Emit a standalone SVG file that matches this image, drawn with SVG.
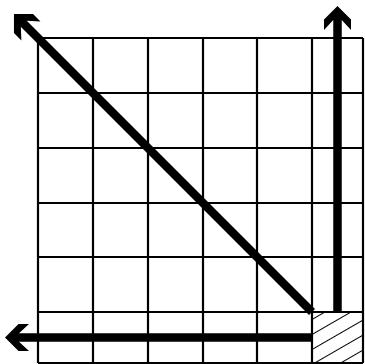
<svg xmlns="http://www.w3.org/2000/svg" width="365" height="364" viewBox="0 0 365 364">
<style>
.grid{stroke:#000;stroke-width:2.2;fill:none}
.arrow{stroke:#000;stroke-width:8.5;fill:none;stroke-linecap:butt}
.hatch{stroke:#000;stroke-width:1}
</style>
<defs>
<marker id="head" markerUnits="userSpaceOnUse" markerWidth="34" markerHeight="34" viewBox="-28 -17 34 34" refX="-13.5" refY="0" orient="auto">
<path d="M0,0 L-13.5,-13.5 L-24,-13.5 L-14,-4.25 L-14,4.25 L-24,13.5 L-13.5,13.5 Z" fill="#000"/>
</marker>
<pattern id="hatchPat" patternUnits="userSpaceOnUse" width="13" height="13" patternTransform="translate(312,312) rotate(-30)">
<line class="hatch" x1="-5" y1="6.5" x2="20" y2="6.5"/>
</pattern>
</defs>
<rect width="365" height="364" fill="#fff"/>
<g id="hatched-cell">
<rect x="312" y="312" width="51" height="51" fill="url(#hatchPat)"/>
</g>
<g id="grid">
<path class="grid" d="M38,38 V363 M93,38 V363 M148,38 V363 M203,38 V363 M257,38 V363 M312,38 V363 M363,38 V363"/>
<path class="grid" d="M38,38 H363 M38,93 H363 M38,148 H363 M38,203 H363 M38,257 H363 M38,312 H363 M38,363 H363"/>
</g>
<g id="connectors">
<line id="arrow-up" class="arrow" x1="337.5" y1="312" x2="337.5" y2="19.5" marker-end="url(#head)"/>
<line id="arrow-left" class="arrow" x1="312" y1="337.5" x2="18.5" y2="337.5" marker-end="url(#head)"/>
<line id="arrow-diag" class="arrow" x1="312" y1="312" x2="23.5" y2="23.5" marker-end="url(#head)"/>
</g>
</svg>
